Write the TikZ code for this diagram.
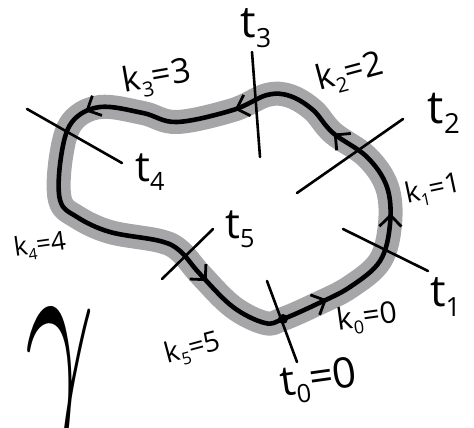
\documentclass[tikz,border=0pt]{standalone}
\usepackage{fontspec}
\setmainfont{Open Sans}
\usetikzlibrary{decorations.markings,arrows.meta}
\definecolor{halo}{RGB}{166,166,169}
\newcommand\sbs[1]{\raisebox{-0.22em}{\scalebox{0.6}{#1}}}
\tikzset{
  halopath/.style={draw=halo,line width=24pt,line join=round},
  curvepath/.style={draw=black,line width=4.6pt,line join=round},
  tline/.style={draw=black,line width=2.6pt,line cap=round},
  lab/.style={inner sep=0pt,text=black},
  barbtip/.tip={Straight Barb[length=11pt,width=22pt,line width=2.8pt]},
  arrowmarks/.style={postaction={decorate},decoration={markings,
    mark=at position 0.012 with {\arrow{barbtip}},
    mark=at position 0.14 with {\arrow{barbtip}},
    mark=at position 0.255 with {\arrow{barbtip}},
    mark=at position 0.385 with {\arrow{barbtip}},
    mark=at position 0.555 with {\arrow{barbtip}},
    mark=at position 0.857 with {\arrow{barbtip}}}}
}
\begin{document}
\begin{tikzpicture}[x=1pt,y=-1pt]
\useasboundingbox (0,0) rectangle (474,428);
% halo
\path[halopath] plot[smooth cycle, tension=0.6] coordinates {(283,319) (317,304) (350,287) (380,261) (390,224) (387,187) (367,157) (333,133) (313,110) (290,96) (267,95) (233,110) (177,122) (143,113) (100,107) (72,122) (61,157) (60,200) (77,217) (110,232) (160,241) (180,251) (200,274) (233,307) (265,323)};
% curve
\path[curvepath,arrowmarks] plot[smooth cycle, tension=0.6] coordinates {(283,319) (317,304) (350,287) (380,261) (390,224) (387,187) (367,157) (333,133) (313,110) (290,96) (267,95) (233,110) (177,122) (143,113) (100,107) (72,122) (61,157) (60,200) (77,217) (110,232) (160,241) (180,251) (200,274) (233,307) (265,323)};
% start dot
\coordinate (p0) at (283,319);
\fill (p0) circle (5);
% transversals
\coordinate (a0) at (267,281); \coordinate (b0) at (297,362);
\coordinate (a1) at (343,229); \coordinate (b1) at (428,271);
\coordinate (a2) at (297,193); \coordinate (b2) at (403,119);
\coordinate (a3) at (252,52);  \coordinate (b3) at (260,157);
\coordinate (a4) at (27,109);  \coordinate (b4) at (122,163);
\coordinate (a5) at (162,279); \coordinate (b5) at (213,229);
\foreach \i in {0,...,5} {\draw[tline] (a\i) -- (b\i);}
% labels
\node[lab,font=\fontsize{44}{44}\selectfont] (t3) at (256,28) {t\sbs{3}};
\node[lab,font=\fontsize{46}{46}\selectfont] (t2) at (444,113) {t\sbs{2}};
\node[lab,font=\fontsize{42}{42}\selectfont] (t4) at (150,172) {t\sbs{4}};
\node[lab,font=\fontsize{42}{42}\selectfont] (t5) at (240,229) {t\sbs{5}};
\node[lab,font=\fontsize{44}{44}\selectfont,anchor=west] (t1) at (430,297) {t\sbs{1}};
\node[lab,font=\fontsize{42}{42}\selectfont,rotate=8] (t0) at (319,381) {t\sbs{0}=0};
\node[lab,font=\fontsize{34}{34}\selectfont,rotate=10] (k3) at (157,78) {k\sbs{3}=3};
\node[lab,font=\fontsize{34}{34}\selectfont,rotate=15] (k2) at (350,73) {k\sbs{2}=2};
\node[lab,font=\fontsize{28}{28}\selectfont,rotate=12] (k1) at (433,190) {k\sbs{1}=1};
\node[lab,font=\fontsize{26}{26}\selectfont,rotate=8] (k4) at (40,246) {k\sbs{4}=4};
\node[lab,font=\fontsize{30}{30}\selectfont,rotate=8] (k0) at (367,318) {k\sbs{0}=0};
\node[lab,font=\fontsize{28}{28}\selectfont,rotate=15] (k5) at (193,349) {k\sbs{5}=5};
\node[lab] (g) at (60,384) {\scalebox{12}[24]{$\gamma$}};
\end{tikzpicture}
\end{document}
